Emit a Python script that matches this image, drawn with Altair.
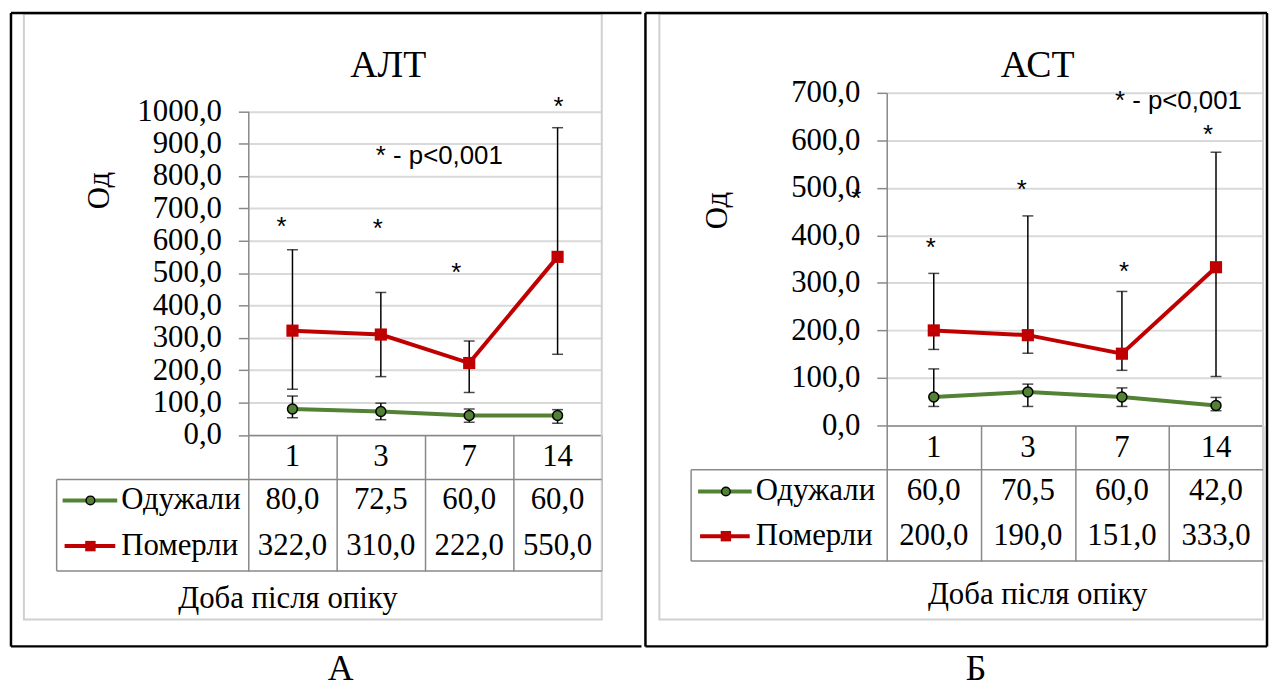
import altair as alt
import pandas as pd

# ---------------- data ----------------
days = ["1", "3", "7", "14"]
series_names = ["Одужали", "Померли"]

alt_recovered = [80.0, 72.5, 60.0, 60.0]
alt_died = [322.0, 310.0, 222.0, 550.0]
alt_recovered_low = [53, 47, 39, 36]
alt_recovered_high = [120, 98, 80, 78]
alt_died_low = [141, 180, 131, 249]
alt_died_high = [572, 440, 290, 949]
alt_star_level = [664, 658, 520, 1033]

ast_recovered = [60.0, 70.5, 60.0, 42.0]
ast_died = [200.0, 190.0, 151.0, 333.0]
ast_recovered_low = [40, 40, 40, 31]
ast_recovered_high = [119, 87, 79, 59]
ast_died_low = [160, 152, 116, 103]
ast_died_high = [320, 441, 282, 575]
ast_star_level = [388, 509, 338, 625]

# ---------------- style ----------------
GREEN = "#548235"
RED = "#c00000"
GRID = "#d9d9d9"
AXIS = "#898989"
SERIF = "Liberation Serif"
SANS = "Liberation Sans"
FS = 31
ORIGIN_Y = 91.5  # common top of the panel groups (page px)


def fmt(v):
    return f"{v:.1f}".replace(".", ",")


ONE = pd.DataFrame({"k": [0]})


def panel(g, title, letter, rec, died, rec_lo, rec_hi, died_lo, died_hi, stars):
    ox, oy, W, ymax = g["ox"], ORIGIN_Y, g["W"], g["ymax"]
    H = g["ybot"] - oy

    def px(v):
        return v - ox

    def py(v):
        return v - oy

    df = pd.DataFrame({
        "day": days, "rec": rec, "died": died,
        "rec_lo": rec_lo, "rec_hi": rec_hi,
        "died_lo": died_lo, "died_hi": died_hi,
        "star": stars,
        "rec_txt": [fmt(v) for v in rec],
        "died_txt": [fmt(v) for v in died],
    })
    long = pd.DataFrame({
        "day": days * 2,
        "series": [series_names[0]] * len(days) + [series_names[1]] * len(days),
        "value": list(rec) + list(died),
    })

    x_enc = alt.X(
        "day:N", sort=days,
        scale=alt.Scale(type="band", domain=days, paddingInner=0, paddingOuter=0),
        axis=alt.Axis(title=None, labels=False, tickBand="extent",
                      tickSize=g["tb"] - g["ybot"], tickColor=AXIS, tickWidth=1.5,
                      domainColor=AXIS, domainWidth=1.5, grid=False),
    )
    y_scale = alt.Scale(domain=[0, ymax], nice=False, zero=True, range=[H, py(g["ytop"])])
    y_axis = alt.Axis(
        title=None, values=list(range(0, ymax + 1, 100)),
        labelExpr="replace(format(datum.value, '.1f'), '.', ',')",
        labelFont=SERIF, labelFontSize=FS, labelColor="black", labelPadding=17,
        labelOverlap=False, tickSize=10, tickColor=AXIS, tickWidth=1.5,
        domainColor=AXIS, domainWidth=1.5, grid=True, gridColor=GRID, gridWidth=2,
    )

    def Y(field):
        return alt.Y(field, scale=y_scale, axis=y_axis)

    layers = []
    # chart area border (grey) and outer frame (black)
    layers.append(alt.Chart(ONE).mark_rect(fill="white", fillOpacity=0, stroke="#d0d0d0", strokeWidth=2).encode(
        x=alt.value(px(g["gb"][0])), x2=alt.value(px(g["gb"][1])),
        y=alt.value(py(g["gb"][2])), y2=alt.value(py(g["gb"][3]))))
    for (x1, x2, y1, y2) in g["frame"]:
        layers.append(alt.Chart(ONE).mark_rule(color="black", strokeWidth=2.5).encode(
            x=alt.value(px(x1)), x2=alt.value(px(x2)),
            y=alt.value(py(y1)), y2=alt.value(py(y2))))

    # error bars
    for lo, hi in [("rec_lo", "rec_hi"), ("died_lo", "died_hi")]:
        layers.append(alt.Chart(df).mark_rule(color="black", strokeWidth=1.5).encode(
            x=x_enc, y=Y(f"{lo}:Q"), y2=f"{hi}:Q"))
        for f in (lo, hi):
            layers.append(alt.Chart(df).mark_tick(color="black", thickness=1.5, size=11).encode(
                x=x_enc, y=Y(f"{f}:Q")))

    # lines
    layers.append(alt.Chart(long).mark_line(strokeWidth=4).encode(
        x=x_enc, y=Y("value:Q"),
        color=alt.Color("series:N", scale=alt.Scale(domain=series_names, range=[GREEN, RED]), legend=None)))
    layers.append(alt.Chart(df).mark_point(shape="circle", filled=True, fill=GREEN, stroke="black",
                                           strokeWidth=1.5, size=100, opacity=1).encode(
        x=x_enc, y=Y("rec:Q")))
    layers.append(alt.Chart(df).mark_point(shape="square", filled=True, color=RED, size=150, opacity=1).encode(
        x=x_enc, y=Y("died:Q")))

    # significance stars
    for i, d in enumerate(days):
        layers.append(alt.Chart(df[df["day"] == d]).mark_text(
            text="*", font=SANS, fontSize=26, baseline="alphabetic", dy=15, dx=g["star_dx"][i]).encode(
            x=x_enc, y=Y("star:Q")))
    if g.get("stray") is not None:
        sd, sv, sdx = g["stray"]
        layers.append(alt.Chart(pd.DataFrame({"day": [sd], "star": [sv]})).mark_text(
            text="*", font=SANS, fontSize=26, baseline="alphabetic", dy=15, dx=sdx).encode(
            x=x_enc, y=Y("star:Q")))
    nd, nv, ndx = g["note"]
    layers.append(alt.Chart(pd.DataFrame({"day": [nd], "star": [nv]})).mark_text(
        text="* - p<0,001", font=SANS, fontSize=26, align="left", baseline="middle", dx=ndx).encode(
        x=x_enc, y=Y("star:Q")))

    # data table
    layers.append(alt.Chart(df).mark_text(font=SERIF, fontSize=FS, baseline="middle").encode(
        x=x_enc, y=alt.value(py(g["day_y"])), text="day:N"))
    layers.append(alt.Chart(df).mark_text(font=SERIF, fontSize=FS, baseline="middle").encode(
        x=x_enc, y=alt.value(py(g["row1"])), text="rec_txt:N"))
    layers.append(alt.Chart(df).mark_text(font=SERIF, fontSize=FS, baseline="middle").encode(
        x=x_enc, y=alt.value(py(g["row2"])), text="died_txt:N"))
    # table borders
    for yy in (g["tt"], g["tb"]):
        layers.append(alt.Chart(ONE).mark_rule(color=AXIS, strokeWidth=1.5).encode(
            x=alt.value(px(g["tl"])), x2=alt.value(W), y=alt.value(py(yy))))
    layers.append(alt.Chart(ONE).mark_rule(color=AXIS, strokeWidth=1.5).encode(
        x=alt.value(px(g["tl"])), y=alt.value(py(g["tt"])), y2=alt.value(py(g["tb"]))))

    # legend keys inside the table
    lg = g["leg"]
    layers.append(alt.Chart(ONE).mark_rule(color=GREEN, strokeWidth=4).encode(
        x=alt.value(px(lg["g"][0])), x2=alt.value(px(lg["g"][1])), y=alt.value(py(g["row1"]))))
    layers.append(alt.Chart(ONE).mark_point(shape="circle", filled=True, fill=GREEN, stroke="black",
                                            strokeWidth=1.5, size=75, opacity=1).encode(
        x=alt.value(px(lg["m"])), y=alt.value(py(g["row1"]))))
    layers.append(alt.Chart(ONE).mark_rule(color=RED, strokeWidth=4).encode(
        x=alt.value(px(lg["r"][0])), x2=alt.value(px(lg["r"][1])), y=alt.value(py(g["row2"]))))
    layers.append(alt.Chart(ONE).mark_point(shape="square", filled=True, color=RED, size=110, opacity=1).encode(
        x=alt.value(px(lg["m"])), y=alt.value(py(g["row2"]))))
    for name, ry in zip(series_names, (g["row1"], g["row2"])):
        layers.append(alt.Chart(ONE).mark_text(text=name, font=SERIF, fontSize=FS, align="left",
                                               baseline="middle").encode(
            x=alt.value(px(lg["t"])), y=alt.value(py(ry))))

    # titles
    layers.append(alt.Chart(ONE).mark_text(text=title, font=SERIF, fontSize=38, baseline="middle").encode(
        x=alt.value(px(g["title"][0])), y=alt.value(py(g["title"][1]))))
    layers.append(alt.Chart(ONE).mark_text(text="Од", font=SERIF, fontSize=FS, angle=270,
                                           baseline="middle").encode(
        x=alt.value(px(g["ytitle"][0])), y=alt.value(py(g["ytitle"][1]))))
    layers.append(alt.Chart(ONE).mark_text(text="Доба після опіку", font=SERIF, fontSize=FS,
                                           baseline="middle").encode(
        x=alt.value(px(g["xtitle"][0])), y=alt.value(py(g["xtitle"][1]))))
    layers.append(alt.Chart(ONE).mark_text(text=letter, font=SERIF, fontSize=36, baseline="middle").encode(
        x=alt.value(px(g["letter"][0])), y=alt.value(py(g["letter"][1]))))

    return alt.layer(*layers).properties(width=W, height=H)


geom_a = dict(
    ox=249, W=356, ymax=1000, ytop=110, ybot=436,
    tt=481, tb=573, tl=56, day_y=458, row1=502, row2=548,
    leg=dict(g=(62, 117), r=(64, 115), m=90, t=121),
    xtitle=(289, 601), title=(390, 65), ytitle=(100, 190),
    gb=(23, 605, 12, 622),
    frame=[(10, 645, 11, 11), (10, 645, 649, 649), (10, 10, 11, 649)],
    letter=(342, 672),
    star_dx=[-11, -3, -13, 1],
    note=("3", 862, -5), stray=None,
)
geom_b = dict(
    ox=888, W=379, ymax=700, ytop=91.5, ybot=426.5,
    tt=471, tb=563, tl=691, day_y=449, row1=493, row2=538,
    leg=dict(g=(698, 752), r=(700, 750), m=726, t=756),
    xtitle=(1040, 597), title=(1040, 65), ytitle=(718, 210),
    gb=(659, 1267, 12, 622),
    frame=[(645, 645, 11, 649), (645, 1271, 11, 11), (645, 1271, 649, 649), (1271, 1271, 11, 649)],
    letter=(978, 672),
    star_dx=[-3, -6, 2, -8],
    note=("7", 683, -7), stray=("1", 491, -78),
)

chart_a = panel(geom_a, "АЛТ", "А", alt_recovered, alt_died, alt_recovered_low, alt_recovered_high,
                alt_died_low, alt_died_high, alt_star_level)
chart_b = panel(geom_b, "АСТ", "Б", ast_recovered, ast_died, ast_recovered_low, ast_recovered_high,
                ast_died_low, ast_died_high, ast_star_level)

chart = alt.hconcat(chart_a, chart_b, spacing=0).properties(
    padding={"left": 1, "top": 1, "right": 0, "bottom": 0},
    background="white",
).configure_view(stroke=None)

chart.save("out.html", embed_options={"renderer": "svg", "actions": False})
